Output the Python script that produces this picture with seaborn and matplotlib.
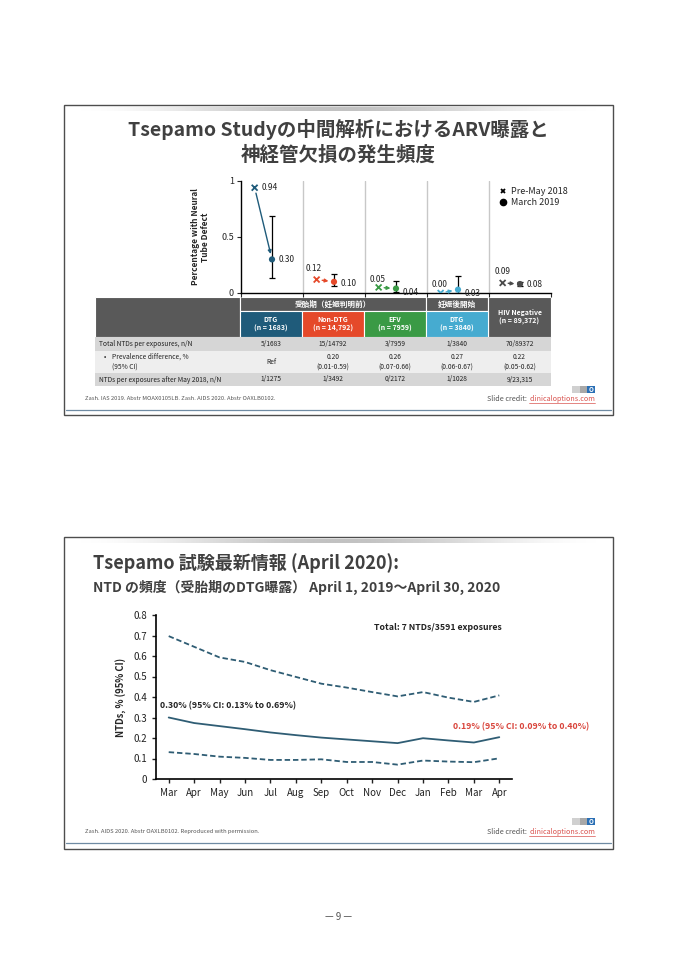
import numpy as np
import pandas as pd
import seaborn as sns
import matplotlib.pyplot as plt
from matplotlib.patches import Rectangle
from matplotlib.lines import Line2D

sns.set_style("ticks")
plt.rcParams['font.family'] = ['Noto Sans CJK JP', 'DejaVu Sans']

# ---- slide 1 data ----
groups = ["DTG", "Non-DTG", "EFV", "DTG (after)", "HIV Negative"]
group_heads = ["DTG\n(n = 1683)", "Non-DTG\n(n = 14,792)", "EFV\n(n = 7959)",
               "DTG\n(n = 3840)", "HIV Negative\n(n = 89,372)"]
pre_may = [0.94, 0.12, 0.05, 0.00, 0.09]
march_2019 = [0.30, 0.10, 0.04, 0.03, 0.08]
ci_low = [0.13, 0.06, 0.01, 0.00, 0.06]
ci_high = [0.69, 0.17, 0.11, 0.15, 0.10]

row_labels = ["Total NTDs per exposures, n/N", "Prevalence difference, %\n(95% CI)",
              "NTDs per exposures after May 2018, n/N"]
total_ntds = ["5/1683", "15/14792", "3/7959", "1/3840", "70/89372"]
prev_diff = ["Ref", "0.20\n(0.01-0.59)", "0.26\n(0.07-0.66)", "0.27\n(0.06-0.67)", "0.22\n(0.05-0.62)"]
after_may = ["1/1275", "1/3492", "0/2172", "1/1028", "9/23,315"]

# ---- slide 2 data ----
months = ["Mar", "Apr", "May", "Jun", "Jul", "Aug", "Sep", "Oct", "Nov", "Dec",
          "Jan", "Feb", "Mar", "Apr"]
estimate = [0.300, 0.273, 0.258, 0.243, 0.227, 0.214, 0.202, 0.193, 0.184, 0.175,
            0.199, 0.188, 0.178, 0.204]
upper = [0.697, 0.645, 0.593, 0.571, 0.531, 0.498, 0.465, 0.446, 0.424, 0.403,
         0.424, 0.397, 0.376, 0.408]
lower = [0.131, 0.122, 0.109, 0.103, 0.093, 0.093, 0.096, 0.083, 0.083, 0.070,
         0.090, 0.085, 0.082, 0.101]

grp_colors = ["#1f5b7a", "#e5492a", "#3a9a45", "#46abd0", "#4a4a4a"]
head_gray = "#595959"
line_color = "#2f5d74"
title_color = "#404040"

W, H = 679, 960
fig = plt.figure(figsize=(W / 100, H / 100), dpi=100)
fig.patch.set_facecolor("white")
bg = fig.add_axes([0, 0, 1, 1])
bg.axis("off")
bg.set_xlim(0, W)
bg.set_ylim(H, 0)
bg.set_autoscale_on(False)


def box(x0, y0, x1, y1):
    return [x0 / W, 1 - y1 / H, (x1 - x0) / W, (y1 - y0) / H]


def slide_frame(y0, y1, blue_y):
    bg.add_patch(Rectangle((64, y0), 549, y1 - y0, fill=False, ec="#4d4d4d", lw=1.0))
    xs = np.linspace(0, 1, 300)
    img = np.zeros((1, 300, 4))
    img[..., :3] = 0.6
    img[0, :, 3] = np.sin(np.pi * xs) ** 2 * 0.6
    bg.imshow(img, extent=(66, 611, y0 + 6, y0 + 2), aspect="auto", interpolation="bilinear")
    bg.plot([66, 611], [blue_y, blue_y], color="#6f8ba3", lw=0.9)


def credit(y, logo_y, note):
    bg.text(85, y, note, fontsize=4.2, color="#555555", va="center")
    url = bg.text(595, y, "clinicaloptions.com", fontsize=5.2, color="#d9534f",
                  ha="right", va="center")
    r = fig.canvas.get_renderer()
    ext = url.get_window_extent(renderer=r)
    x_left = bg.transData.inverted().transform((ext.x0, ext.y0))[0]
    bg.plot([x_left, 595], [y + 4, y + 4], color="#d9534f", lw=0.5)
    bg.text(x_left - 2, y, "Slide credit:", fontsize=5.2, color="#555555", ha="right", va="center")
    bg.add_patch(Rectangle((572, logo_y), 8, 7, color="#d0d0d0", lw=0))
    bg.add_patch(Rectangle((580, logo_y), 7, 7, color="#a8a8a8", lw=0))
    bg.add_patch(Rectangle((587, logo_y), 8, 7, color="#2a6fb5", lw=0))
    bg.text(591, logo_y + 3.6, "O", fontsize=4.5, color="white", ha="center", va="center",
            fontweight="bold")


# ================= slide 1 =================
slide_frame(105, 415, 410)
bg.text(338, 130, "Tsepamo Studyの中間解析におけるARV曝露と", fontsize=14, fontweight="bold",
        color=title_color, ha="center", va="center")
bg.text(338, 155, "神経管欠損の発生頻度", fontsize=14, fontweight="bold",
        color=title_color, ha="center", va="center")

ax1 = fig.add_axes(box(241, 181, 551, 293))
ax1.patch.set_alpha(0)
pal = dict(zip(groups, grp_colors))
x_off = -0.28
df1 = pd.DataFrame({"group": groups, "pos": np.arange(5), "pre_pos": np.arange(5) + x_off,
                    "pre_may": pre_may, "march": march_2019})

for b in [0.5, 1.5, 2.5, 3.5]:
    ax1.axvline(b, color="#c8c8c8", lw=1.0, zorder=0)

for i in range(5):
    ax1.annotate("", xy=(i, march_2019[i]), xytext=(i + x_off, pre_may[i]),
                 arrowprops=dict(arrowstyle="-|>", color=grp_colors[i], lw=1.0,
                                 shrinkA=4, shrinkB=4, mutation_scale=5))

ax1.errorbar(df1["pos"], df1["march"],
             yerr=[np.array(march_2019) - np.array(ci_low), np.array(ci_high) - np.array(march_2019)],
             fmt="none", ecolor="black", elinewidth=0.9, capsize=2.5, capthick=0.9, zorder=3)
sns.scatterplot(data=df1, x="pre_pos", y="pre_may", hue="group", palette=pal, marker="x",
                s=18, linewidth=1.3, legend=False, ax=ax1, zorder=4)
sns.scatterplot(data=df1, x="pos", y="march", hue="group", palette=pal, marker="o",
                s=20, edgecolor="none", legend=False, ax=ax1, zorder=5)

pre_offsets = [(5, 0), (-2, 8), (-1, 6), (-1, 6), (0, 8)]
mar_offsets = [(5, 0), (5, -1), (5, -3), (5, -3), (5, 0)]
for i in range(5):
    dx, dy = pre_offsets[i]
    ax1.annotate(f"{pre_may[i]:.2f}", (i + x_off, pre_may[i]), xytext=(dx, dy),
                 textcoords="offset points", fontsize=6, va="center",
                 ha="left" if i == 0 else "center", color="#222222")
    dx, dy = mar_offsets[i]
    ax1.annotate(f"{march_2019[i]:.2f}", (i, march_2019[i]), xytext=(dx, dy),
                 textcoords="offset points", fontsize=6, va="center", ha="left", color="#222222")

ax1.set_xlim(-0.5, 4.5)
ax1.set_ylim(0, 1)
ax1.set_yticks([0, 0.5, 1])
ax1.set_yticklabels(["0", "0.5", "1"])
ax1.set_xticks(np.arange(-0.5, 5, 1))
ax1.set_xticklabels([])
ax1.tick_params(axis="x", length=3, width=0.8)
ax1.tick_params(axis="y", length=3, width=0.8, labelsize=6.5, pad=2)
sns.despine(ax=ax1)
for s in ["left", "bottom"]:
    ax1.spines[s].set_color("black")
    ax1.spines[s].set_linewidth(1.0)
ax1.set_xlabel("")
ax1.set_ylabel("Percentage with Neural\nTube Defect", fontsize=6, fontweight="bold", labelpad=8)

handles = [Line2D([], [], marker="x", ls="", color="black", ms=3.5, mew=1.3, label="Pre-May 2018"),
           Line2D([], [], marker="o", ls="", color="black", ms=4.5, label="March 2019")]
ax1.legend(handles=handles, loc="upper left", bbox_to_anchor=(0.82, 0.98), frameon=False,
           fontsize=6.5, handletextpad=0.3, labelspacing=0.25, handlelength=1.0, borderaxespad=0)

# table
cols = [95, 240, 302, 364, 426, 488, 551]
ys = [297, 311, 337, 351, 373, 386]
ec = dict(ec="white", lw=0.8)
bg.add_patch(Rectangle((cols[0], ys[0]), cols[1] - cols[0], ys[2] - ys[0], fc=head_gray, **ec))
bg.add_patch(Rectangle((cols[1], ys[0]), cols[4] - cols[1], ys[1] - ys[0], fc=head_gray, **ec))
bg.text((cols[1] + cols[4]) / 2, (ys[0] + ys[1]) / 2, "受胎期（妊娠判明前）", fontsize=5.5,
        color="white", fontweight="bold", ha="center", va="center")
bg.add_patch(Rectangle((cols[4], ys[0]), cols[5] - cols[4], ys[1] - ys[0], fc=head_gray, **ec))
bg.text((cols[4] + cols[5]) / 2, (ys[0] + ys[1]) / 2, "妊娠後開始", fontsize=5.5,
        color="white", fontweight="bold", ha="center", va="center")
bg.add_patch(Rectangle((cols[5], ys[0]), cols[6] - cols[5], ys[2] - ys[0], fc=head_gray, **ec))
bg.text((cols[5] + cols[6]) / 2, (ys[0] + ys[2]) / 2, group_heads[4], fontsize=5,
        color="white", fontweight="bold", ha="center", va="center", linespacing=1.3)
for i in range(4):
    bg.add_patch(Rectangle((cols[i + 1], ys[1]), cols[i + 2] - cols[i + 1], ys[2] - ys[1],
                           fc=grp_colors[i], **ec))
    bg.text((cols[i + 1] + cols[i + 2]) / 2, (ys[1] + ys[2]) / 2, group_heads[i], fontsize=5,
            color="white", fontweight="bold", ha="center", va="center", linespacing=1.3)

row_fc = ["#d6d6d6", "#eeeeee", "#d6d6d6"]
rows = [total_ntds, prev_diff, after_may]
for r in range(3):
    y0, y1 = ys[r + 2], ys[r + 3]
    bg.add_patch(Rectangle((cols[0], y0), cols[6] - cols[0], y1 - y0, fc=row_fc[r], lw=0))
    yc = (y0 + y1) / 2
    if r == 1:
        bg.text(104, y0 + 5.5, "•", fontsize=5, color="#222222", va="center")
        bg.text(112, yc, row_labels[r], fontsize=4.8, color="#222222", va="center", linespacing=1.4)
    else:
        bg.text(99, yc, row_labels[r], fontsize=4.8, color="#222222", va="center")
    for c in range(5):
        bg.text((cols[c + 1] + cols[c + 2]) / 2, yc, rows[r][c], fontsize=4.8, color="#222222",
                ha="center", va="center", linespacing=1.4)

credit(399, 386, "Zash. IAS 2019. Abstr MOAX0105LB. Zash. AIDS 2020. Abstr OAXLB0102.")

# ================= slide 2 =================
slide_frame(537, 849, 843)
bg.text(93, 563, "Tsepamo 試験最新情報 (April 2020):", fontsize=13, fontweight="bold",
        color=title_color, va="center")
bg.text(93, 587, "NTD の頻度（受胎期のDTG曝露） April 1, 2019～April 30, 2020", fontsize=10,
        fontweight="bold", color=title_color, va="center")

ax2 = fig.add_axes(box(156, 615, 512, 779))
ax2.patch.set_alpha(0)
n = len(months)
df2 = pd.DataFrame({"idx": np.tile(np.arange(n), 3),
                    "value": estimate + upper + lower,
                    "series": ["Estimate"] * n + ["Upper"] * n + ["Lower"] * n})
sns.lineplot(data=df2, x="idx", y="value", style="series",
             dashes={"Estimate": "", "Upper": (3, 1.6), "Lower": (3, 1.6)},
             color=line_color, lw=1.3, legend=False, ax=ax2)
ax2.set_xlim(-0.5, 13.5)
ax2.set_ylim(0, 0.8)
yt = np.round(np.arange(0, 0.81, 0.1), 1)
ax2.set_yticks(yt)
ax2.set_yticklabels(["0"] + [f"{v:.1f}" for v in yt[1:]])
ax2.set_xticks(np.arange(n))
ax2.set_xticklabels(months)
ax2.tick_params(axis="both", labelsize=7, length=3, width=1.0, colors="#222222")
sns.despine(ax=ax2)
for s in ["left", "bottom"]:
    ax2.spines[s].set_color("black")
    ax2.spines[s].set_linewidth(1.2)
ax2.set_xlabel("")
ax2.set_ylabel("NTDs, % (95% CI)", fontsize=6.8, fontweight="bold", labelpad=5)

ax2.text(0.011, 0.445, "0.30% (95% CI: 0.13% to 0.69%)", transform=ax2.transAxes,
         fontsize=6.3, fontweight="bold", color="#222222", va="center")
ax2.text(0.834, 0.317, "0.19% (95% CI: 0.09% to 0.40%)", transform=ax2.transAxes,
         fontsize=6.3, fontweight="bold", color="#d9453c", va="center")
ax2.text(0.792, 0.921, "Total: 7 NTDs/3591 exposures", transform=ax2.transAxes,
         fontsize=6.3, fontweight="bold", color="#222222", ha="center", va="center")

credit(832, 818, "Zash. AIDS 2020. Abstr OAXLB0102. Reproduced with permission.")

bg.text(339, 917, "— 9 —", fontsize=7, color="#555555", ha="center", va="center")

fig.savefig("out.png", dpi=100, facecolor="white")
